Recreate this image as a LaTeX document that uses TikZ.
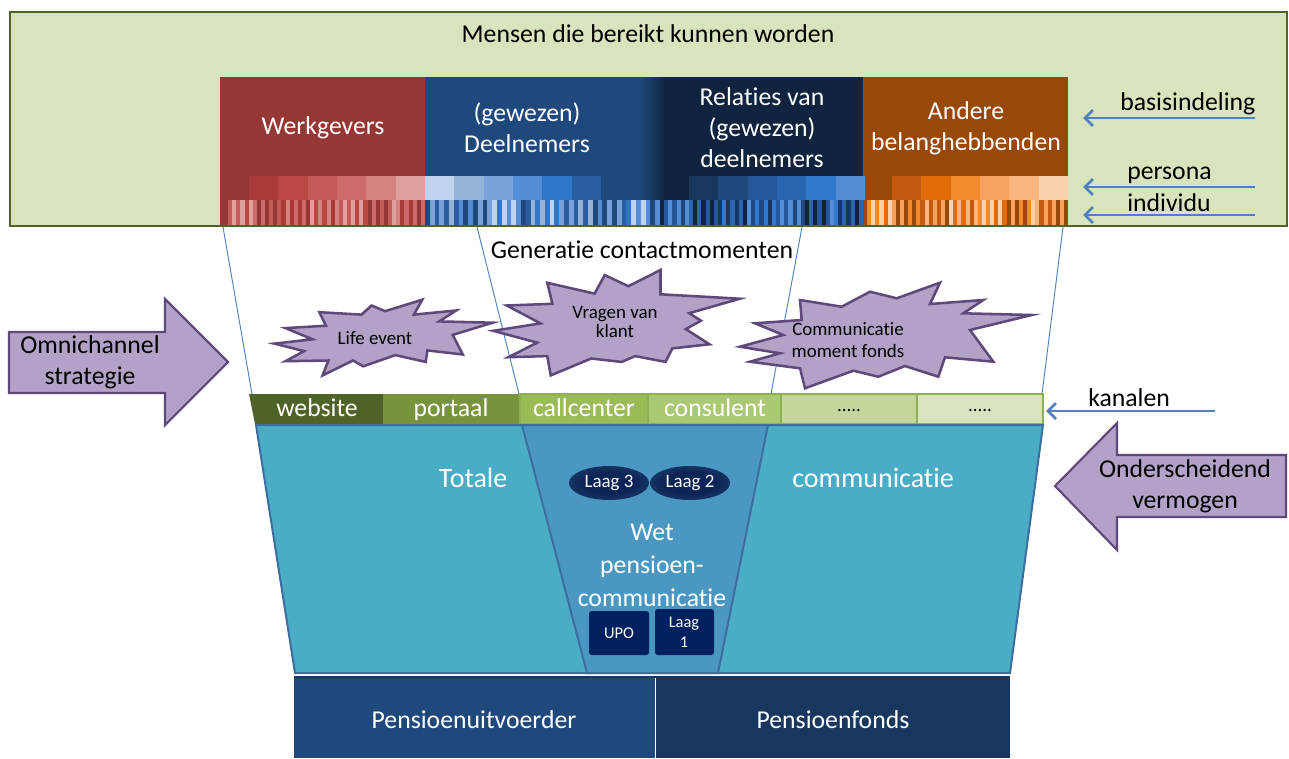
\documentclass[tikz,border=0pt]{standalone}
\usepackage{fontspec}
\setmainfont{Carlito}[RawFeature={-liga;-dlig;-calt;-clig}]
\usetikzlibrary{arrows.meta}
\definecolor{boxfill}{HTML}{D7E4BD}
\definecolor{boxline}{HTML}{4F6228}
\definecolor{W0}{HTML}{953735}\definecolor{W1}{HTML}{AA3A37}\definecolor{W2}{HTML}{BA4744}
\definecolor{W3}{HTML}{C45A57}\definecolor{W4}{HTML}{CC6B69}\definecolor{W5}{HTML}{D58381}\definecolor{W6}{HTML}{E0A09E}
\definecolor{D0}{HTML}{1F497D}\definecolor{D1}{HTML}{BDD3EE}\definecolor{D2}{HTML}{95B3D7}
\definecolor{D3}{HTML}{7AA2DA}\definecolor{D4}{HTML}{558ED5}\definecolor{D5}{HTML}{2F76C8}\definecolor{D6}{HTML}{2A5EA0}
\definecolor{R0}{HTML}{10243F}\definecolor{R1}{HTML}{17375E}\definecolor{R2}{HTML}{1F497D}
\definecolor{R3}{HTML}{24589A}\definecolor{R4}{HTML}{2A66B0}\definecolor{R5}{HTML}{3278CE}\definecolor{R6}{HTML}{558ED5}
\definecolor{A0}{HTML}{984807}\definecolor{A1}{HTML}{C45A10}\definecolor{A2}{HTML}{E36C0A}
\definecolor{A3}{HTML}{F28A2E}\definecolor{A4}{HTML}{F7A25E}\definecolor{A5}{HTML}{F9B47F}\definecolor{A6}{HTML}{FCD2AE}
\definecolor{burstfill}{HTML}{B2A2C7}
\definecolor{burstline}{HTML}{5F497A}
\definecolor{guide}{HTML}{4F81BD}
\definecolor{chA}{HTML}{4F6228}\definecolor{chB}{HTML}{77933C}\definecolor{chC}{HTML}{9BBB59}
\definecolor{chD}{HTML}{ABC872}\definecolor{chE}{HTML}{C3D69B}\definecolor{chF}{HTML}{D7E4BD}
\definecolor{chline}{HTML}{8EB055}
\definecolor{funnel}{HTML}{4BACC6}
\definecolor{funmid}{HTML}{4A97C2}
\definecolor{funline}{HTML}{3D6EA0}
\definecolor{navy}{HTML}{002060}
\definecolor{glowc}{HTML}{0D2456}
\definecolor{botA}{HTML}{1F497D}
\definecolor{botB}{HTML}{17375E}
\pgfdeclareradialshading{laagglow}{\pgfpoint{0bp}{0bp}}{color(0bp)=(glowc); color(16bp)=(glowc); color(30bp)=(glowc!80!funmid); color(42bp)=(glowc!35!funmid); color(50bp)=(funmid); color(100bp)=(funmid)}
\newcommand\fntA{\fontsize{19.3}{23.2}\selectfont}
\newcommand\fntL{\fontsize{21}{25}\selectfont}
\newcommand\fntW{\fontsize{19.3}{24.8}\selectfont}
\newcommand\fntS{\fontsize{14.2}{14.8}\selectfont}
\newcommand\fntC{\fontsize{14.2}{16.5}\selectfont}
\newcommand\fntT{\fontsize{12.3}{15}\selectfont}
\tikzset{
  wtext/.style={text=white, font=\fntA, align=center, inner sep=0pt},
  btext/.style={text=black, font=\fntA, align=center, inner sep=0pt},
  chtext/.style={text=white, font=\fntA, inner sep=0pt, anchor=base},
  burst/.style={fill=burstfill, draw=burstline, line width=1.9pt, line join=miter},
  bigarrow/.style={fill=burstfill, draw=burstline, line width=1.6pt},
  lblarrow/.style={draw=guide, line width=2.1pt, -{Straight Barb[length=6pt,width=12pt,line width=2.1pt]}},
  guideline/.style={draw=guide, line width=0.7pt},
  chbox/.style={draw=chline, line width=0.8pt},
  navybox/.style={fill=navy, rounded corners=2pt}
}
\begin{document}
\begin{tikzpicture}[x=0.75pt,y=-0.75pt]
\useasboundingbox (0,0) rectangle (1289,758);
\fill[white] (0,0) rectangle (1289,758);
% top box
\fill[boxfill] (10,12) rectangle (1287,226);
\node[btext] (title) at (648,34) {Mensen die bereikt kunnen worden};
% category blocks
\fill[W0] (220,77) rectangle (425,225);
\fill[D0] (425,77) rectangle (640,225);
\shade[left color=D0, right color=R0] (639,77) rectangle (665,225);
\fill[R0] (664,77) rectangle (863,225);
\fill[A0] (863,77) rectangle (1068,225);
% persona strip
\foreach \c/\xs in {W/249, D/425, R/689, A/892} {
  \foreach \i in {1,...,6} {
    \edef\mycol{\c\i}
    \fill[fill=\mycol] ({\xs+(\i-1)*29.33},176) rectangle ({\xs+\i*29.33+0.3},200);
  }
}
% individu strip
\foreach \c/\xs/\xe in {W/224/425, D/425/660, R/660/863, A/863/1064} {
  \pgfmathsetmacro\sw{(\xe-\xs)/49}
  \foreach \k in {0,...,48} {
    \pgfmathtruncatemacro\ci{mod(\k*3+int(\k/7)*2+int(\k/3),7)}
    \edef\mycol{\c\ci}
    \fill[fill=\mycol] ({\xs+\k*\sw},200) rectangle ({\xs+(\k+1)*\sw+0.4},225);
  }
}
\draw[boxline, line width=2.2pt] (10,12) rectangle (1287,226);
\node[wtext] (werk) at (323,128) {Werkgevers};
\node[wtext] (deel) at (527,128) {(gewezen)\\Deelnemers};
\node[wtext] (rel) at (762,128) {Relaties van\\(gewezen)\\deelnemers};
\node[wtext] (andere) at (966,128) {Andere\\belanghebbenden};
% right labels
\node[btext, anchor=west] (basis) at (1120,104) {basisindeling};
\node[btext, anchor=west] (persona) at (1127,175) {persona};
\node[btext, anchor=west] (individu) at (1127,203) {individu};
\coordinate (bas1) at (1255,118); \coordinate (bas2) at (1083,118);
\coordinate (per1) at (1255,187); \coordinate (per2) at (1083,187);
\coordinate (ind1) at (1255,215); \coordinate (ind2) at (1083,215);
\draw[lblarrow] (bas1) -- (bas2);
\draw[lblarrow] (per1) -- (per2);
\draw[lblarrow] (ind1) -- (ind2);
% guide lines
\coordinate (g1a) at (223,227); \coordinate (g1b) at (252,394);
\coordinate (g2a) at (477,227); \coordinate (g2b) at (519,394);
\coordinate (g3a) at (802,227); \coordinate (g3b) at (771,394);
\coordinate (g4a) at (1063,227); \coordinate (g4b) at (1042,394);
\draw[guideline] (g1a) -- (g1b);
\draw[guideline] (g2a) -- (g2b);
\draw[guideline] (g3a) -- (g3b);
\draw[guideline] (g4a) -- (g4b);
\node[btext] (gen) at (642,250) {Generatie contactmomenten};
% bursts
\draw[burst] (422.3,299.7) -- (413.9,314.6) -- (456.1,310.5) -- (439.2,321.4) -- (492.6,322.7) -- (452.7,334.9) -- (462.8,354.5) -- (427.4,350.4) -- (425.7,361.9) -- (395.3,355.1) -- (363.2,366.3) -- (353.0,360.5) -- (322.6,375.4) -- (328.4,360.5) -- (285.5,361.2) -- (304.1,351.1) -- (274.3,343.6) -- (312.5,339.3) -- (285.5,328.1) -- (326.0,325.7) -- (319.3,312.2) -- (361.5,314.6) -- (371.6,305.5) -- (385.1,311.2) -- cycle;
\node[font=\fntS, inner sep=0pt] (life) at (375,338) {Life event};
\draw[burst] (660.5,270) -- (660.5,294.3) -- (739.9,298.7) -- (689.2,313.2) -- (701.0,320.7) -- (685.8,329.1) -- (709.5,344.3) -- (672.3,348.4) -- (665.5,361.9) -- (635.1,356.1) -- (621.6,361.9) -- (591.2,358.5) -- (550.7,375.4) -- (547.3,356.1) -- (508.4,357.2) -- (537.2,342.6) -- (493.2,330.8) -- (540.5,323.4) -- (506.8,305.5) -- (552.4,303.8) -- (547.3,282.8) -- (594.6,293.6) -- (604.7,275.1) -- (628.4,286.2) -- cycle;
\node[font=\fntS, align=center, inner sep=0pt] (vragen) at (615,322) {Vragen van\\klant};
\draw[burst] (940,282.7) -- (930,304) -- (983.3,300) -- (963.3,313.3) -- (1031.7,315) -- (970,330) -- (993.3,361.7) -- (945,357.3) -- (938.3,376.7) -- (905,366) -- (878.3,376.7) -- (853.3,370.7) -- (805,388.3) -- (800,368.3) -- (750,361.7) -- (780,353.3) -- (740,346.7) -- (783.3,335) -- (755,323.3) -- (801.7,320) -- (800,300) -- (841.7,306.7) -- (870,291.7) -- (896.7,298.3) -- cycle;
\node[font=\fntC, align=center, inner sep=0pt] (commfonds) at (848,340) {Communicatie\\moment fonds};
% big arrows
\draw[bigarrow] (9,332) -- (165,332) -- (165,299) -- (228,362) -- (165,425) -- (165,393) -- (9,393) -- cycle;
\node[btext] (omni) at (90,362) {Omnichannel\\strategie};
\draw[bigarrow] (1286,455) -- (1117,455) -- (1117,423) -- (1055,486) -- (1117,550) -- (1117,517) -- (1286,517) -- cycle;
\node[btext] (onder) at (1185,486) {Onderscheidend\\vermogen};
% channel bar
\fill[chA] (249,394) -- (383,394) -- (383,424) -- (255,424) -- cycle;
\fill[chB] (383,394) rectangle (520,424);
\filldraw[chbox, fill=chC] (520,394) rectangle (648,424);
\filldraw[chbox, fill=chD] (648,394) rectangle (781,424);
\filldraw[chbox, fill=chE] (781,394) rectangle (917,424);
\filldraw[chbox, fill=chF] (917,394) rectangle (1043,424);
\node[chtext] (web) at (317,416) {website};
\node[chtext] (port) at (451,416) {portaal};
\node[chtext] (call) at (584,416) {callcenter};
\node[chtext] (cons) at (715,416) {consulent};
\node[font=\fntS, inner sep=0pt, anchor=base] (dots1) at (849,411) {.....};
\node[font=\fntS, inner sep=0pt, anchor=base] (dots2) at (980,411) {.....};
\node[btext, anchor=west] (kanalen) at (1088,398) {kanalen};
\coordinate (kan1) at (1215,411); \coordinate (kan2) at (1046,411);
\draw[lblarrow] (kan1) -- (kan2);
% funnel
\filldraw[fill=funnel, draw=funline, line width=1.5pt] (256,425) -- (1043,425) -- (1010,673) -- (295,673) -- cycle;
\filldraw[fill=funmid, draw=funline, line width=1.5pt] (522,425) -- (768,425) -- (718,673) -- (587,673) -- cycle;
\node[wtext, font=\fntL] (totale) at (473,478) {Totale};
\node[wtext, font=\fntL] (comm) at (873,478) {communicatie};
\shade[shading=laagglow] (609,483) ellipse [x radius=40, y radius=17];
\shade[shading=laagglow] (690,483) ellipse [x radius=40, y radius=17];
\node[font=\fntS, text=white, inner sep=0pt] (laag3) at (609,483) {Laag 3};
\node[font=\fntS, text=white, inner sep=0pt] (laag2) at (690,483) {Laag 2};
\node[wtext, font=\fntW] (wet) at (652,565) {Wet\\pensioen-\\communicatie};
\fill[navybox] (589,611) rectangle (649,655);
\fill[navybox] (655,609) rectangle (714,655);
\node[font=\fntT, text=white, inner sep=0pt] (upo) at (619,633) {UPO};
\node[font=\fntT, text=white, align=center, inner sep=0pt] (laag1) at (684,632) {Laag\\1};
% bottom boxes
\fill[botA] (294,677) rectangle (655,758);
\fill[botB] (656,677) rectangle (1010,758);
\draw[R1, line width=1.2pt] (294,677) -- (1010,677);
\node[wtext] (uitv) at (474,720) {Pensioenuitvoerder};
\node[wtext] (fonds) at (833,720) {Pensioenfonds};
\end{tikzpicture}
\end{document}
